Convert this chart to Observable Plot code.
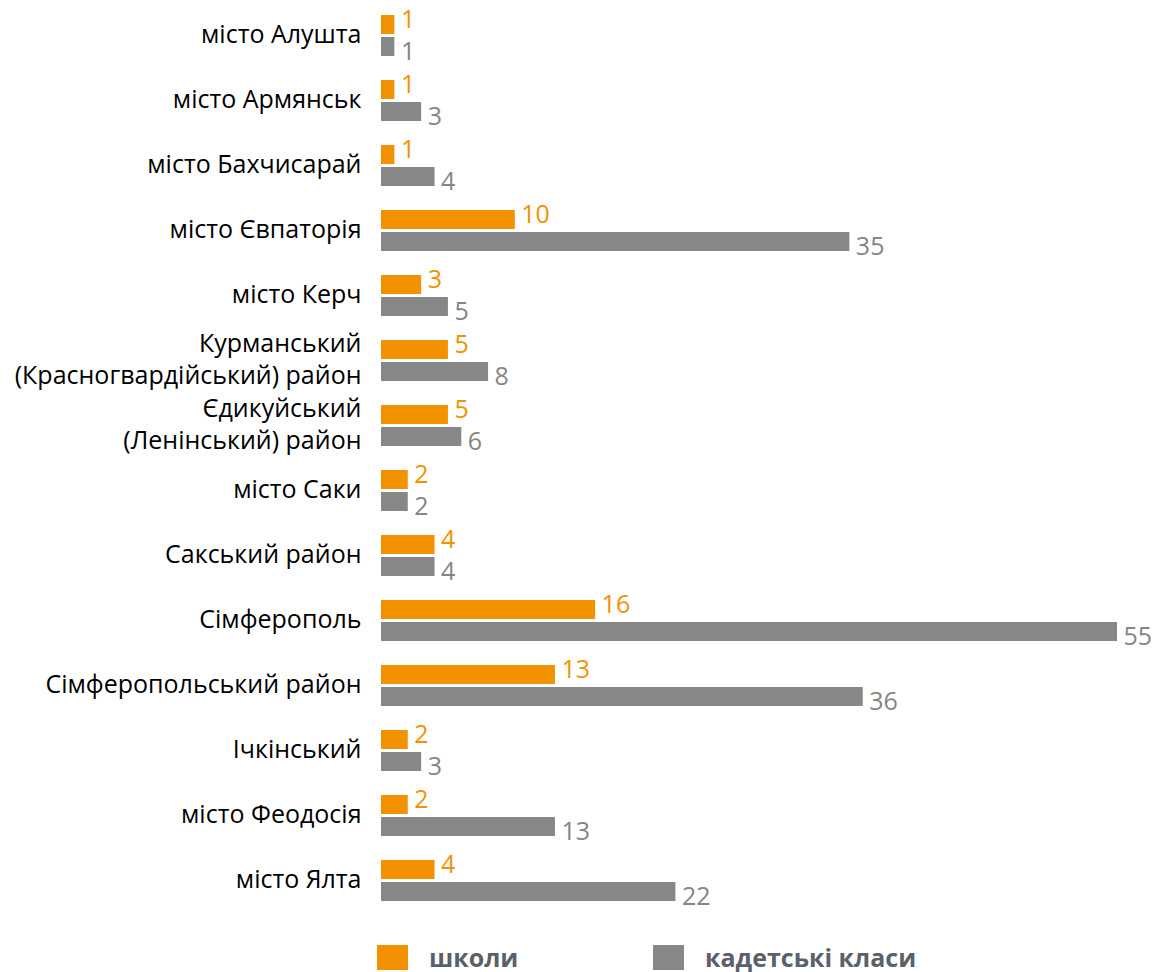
<!DOCTYPE html>
<html>
<head>
<meta charset="utf-8">
<script src="https://cdn.jsdelivr.net/npm/d3@7"></script>
<script src="https://cdn.jsdelivr.net/npm/@observablehq/plot@0.6"></script>
<style>
  html, body { margin: 0; padding: 0; background: #fff; }
  #wrap { width: 1163px; position: relative; font-family: "Open Sans", sans-serif; }
  #legend { display: flex; align-items: center; margin-left: 377px; margin-top: 22px; height: 30px; }
  .item { display: flex; align-items: center; font-weight: 700; font-size: 25px; line-height: 30px; color: #5b6169; }
  .sw { width: 31px; height: 25px; margin-right: 21px; }
</style>
</head>
<body>
<div id="wrap">
  <div id="chart"></div>
  <div id="legend"></div>
</div>
<script>
const categories = [
  "місто Алушта",
  "місто Армянськ",
  "місто Бахчисарай",
  "місто Євпаторія",
  "місто Керч",
  "Курманський\n(Красногвардійський) район",
  "Єдикуйський\n(Ленінський) район",
  "місто Саки",
  "Сакський район",
  "Сімферополь",
  "Сімферопольський район",
  "Ічкінський",
  "місто Феодосія",
  "місто Ялта"
];
const schools = [1, 1, 1, 10, 3, 5, 5, 2, 4, 16, 13, 2, 2, 4];
const cadets  = [1, 3, 4, 35, 5, 8, 6, 2, 4, 55, 36, 3, 13, 22];
const seriesNames = ["школи", "кадетські класи"];
const colors = ["#F39200", "#878787"];
const textColors = ["#F39200", "#858585"];

const data = categories.map((c, i) => ({ category: c, schools: schools[i], cadets: cadets[i] }));

const chart = Plot.plot({
  width: 1163,
  height: 920,
  marginLeft: 381,
  marginRight: 46,
  marginTop: 1,
  marginBottom: 6,
  style: { fontFamily: "Open Sans, sans-serif", background: "#fff" },
  x: { domain: [0, 55], axis: null },
  y: { domain: categories, paddingInner: 0.37, paddingOuter: 0.185, label: null },
  marks: [
    Plot.axisY({ tickSize: 0, tickPadding: 20, fontSize: 25, color: "#000", lineHeight: 1.25, dy: -3, label: null, tickFormat: d => d }),
    Plot.barX(data, { y: "category", x: "schools", fill: colors[0], insetBottom: 22 }),
    Plot.barX(data, { y: "category", x: "cadets", fill: colors[1], insetTop: 22 }),
    Plot.text(data, { y: "category", x: "schools", text: d => String(d.schools), dx: 6, dy: -16, textAnchor: "start", fill: textColors[0], fontSize: 25 }),
    Plot.text(data, { y: "category", x: "cadets", text: d => String(d.cadets), dx: 6, dy: 16, textAnchor: "start", fill: textColors[1], fontSize: 25 })
  ]
});
document.getElementById("chart").appendChild(chart);

const legend = document.getElementById("legend");
seriesNames.forEach((name, i) => {
  const item = document.createElement("div");
  item.className = "item";
  item.style.width = i === 0 ? "276px" : "auto";
  const sw = document.createElement("div");
  sw.className = "sw";
  sw.style.background = colors[i];
  const t = document.createElement("span");
  t.textContent = name;
  item.appendChild(sw);
  item.appendChild(t);
  legend.appendChild(item);
});
</script>
</body>
</html>
